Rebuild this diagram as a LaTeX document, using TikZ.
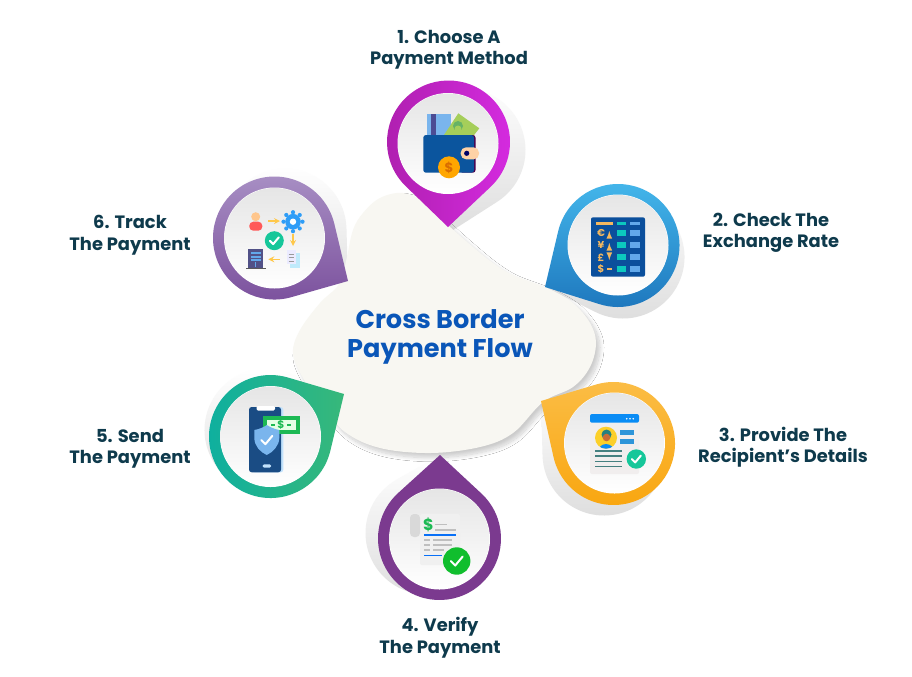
\documentclass[tikz,border=0pt]{standalone}
\usepackage{fontspec}
\setmainfont{Poppins}
\usetikzlibrary{shadows.blur}
\definecolor{blobfill}{HTML}{F8F7F2}
\definecolor{labelink}{HTML}{0E3A4C}
\definecolor{titleink}{HTML}{0A56B8}
\definecolor{walletblue}{HTML}{0B559E}
\definecolor{boardblue}{HTML}{0B4F9C}
\definecolor{cellteal}{HTML}{0CC8BE}
\definecolor{cellblue}{HTML}{62A8EA}
\definecolor{amber}{HTML}{F4B860}
\definecolor{skyblue}{HTML}{0A8CF5}
\definecolor{arrowgold}{HTML}{FFC84A}
\definecolor{notegreen}{HTML}{A5CE5A}
\definecolor{checkteal}{HTML}{16C79A}
\definecolor{checkgreen}{HTML}{10BE2D}
\definecolor{billgreen}{HTML}{1DB954}
\definecolor{phoneblue}{HTML}{1A4C84}
\definecolor{pinmagentaA}{HTML}{AE1FAE}
\definecolor{pinmagentaB}{HTML}{D52BE0}
\definecolor{pinblueA}{HTML}{45B8EC}
\definecolor{pinblueB}{HTML}{1E78BE}
\definecolor{pingoldA}{HTML}{FBBE48}
\definecolor{pingoldB}{HTML}{F9A60F}
\definecolor{pinplum}{HTML}{7B3A8F}
\definecolor{pingreenA}{HTML}{0DAFA0}
\definecolor{pingreenB}{HTML}{37B87A}
\definecolor{pinlilacA}{HTML}{A88FC4}
\definecolor{pinlilacB}{HTML}{7A4F9C}

% pin outline: circle at (#1,#2), point at (#3,#4), fill options #5
\newcommand{\pinmark}[5]{
  \pgfmathsetmacro{\pinang}{atan2(#4-(#2),#3-(#1))}
  \pgfmathsetmacro{\pinopen}{acos(61.5/veclen(#3-(#1),#4-(#2)))}
  \shade[#5] (#3,#4) -- ({#1+61.5*cos(\pinang+\pinopen)},{#2+61.5*sin(\pinang+\pinopen)})
    arc[start angle=\pinang+\pinopen,end angle=\pinang-\pinopen+360,radius=61.5] -- cycle;
}
% white disc inside a pin
\newcommand{\pindisc}[2]{
  \fill[white] (#1,#2) circle (50.5);
  \shade[top color=black!10,middle color=white,bottom color=white] (#1,#2) circle (50);
}
% white tick of size #3
\newcommand{\tickmark}[3]{
  \draw[white,line width=1.5pt,line cap=round,line join=round]
    (#1-#3,#2) -- (#1-0.25*#3,#2+0.75*#3) -- (#1+#3,#2-0.75*#3);
}

\tikzset{
  stepname/.style={text=labelink,font=\fontsize{13.4}{16.1}\selectfont\bfseries,align=center,inner sep=0pt},
  flowname/.style={text=titleink,font=\fontsize{19.2}{21.8}\selectfont\bfseries,align=center,inner sep=0pt},
  pinshadow/.style={shading angle=#1,top color=white,bottom color=black!13},
  iconglyph/.style={inner sep=0pt,font=\bfseries\fontsize{#1}{#1}\selectfont}
}

\begin{document}
\begin{tikzpicture}[x=0.75pt,y=-0.75pt]
  \useasboundingbox (0,0) rectangle (912,676);
  \fill[white] (0,0) rectangle (912,676);

  %shadows behind the pins
  \pinmark{464}{150}{450}{232}{pinshadow=0}
  \pinmark{623}{257}{545}{287}{pinshadow=-90}
  \pinmark{604}{454}{541}{401}{pinshadow=180}
  \pinmark{427}{533}{440}{455}{pinshadow=150}
  \pinmark{266}{430}{344}{394}{pinshadow=90}
  \pinmark{285}{230}{348}{281}{pinshadow=30}

  %central blob
  \fill[blobfill,blur shadow={shadow xshift=3pt,shadow yshift=-3.5pt,shadow blur radius=3pt,shadow blur steps=14,shadow opacity=20}]
    plot[smooth cycle,tension=.6] coordinates {(403,193) (425,203) (448,225) (473,247) (493,263)
      (513,275) (547,288) (573,303) (590,323) (596,343) (590,367) (573,387) (543,402) (513,433)
      (480,447) (430,453) (380,448) (345,432) (322,405) (303,378) (293,353) (300,330) (320,303)
      (337,287) (343,273) (347,257) (353,230) (363,213) (380,198)};

  %pins
  \pinmark{448.5}{142}{448}{227}{left color=pinmagentaA,right color=pinmagentaB}
  \pinmark{618}{245.5}{545}{287}{shading angle=135,top color=pinblueA,bottom color=pinblueB}
  \pinmark{613.5}{443.5}{541}{401}{top color=pingoldA,bottom color=pingoldB}
  \pinmark{439.5}{538.5}{440}{455}{top color=pinplum,bottom color=pinplum}
  \pinmark{270.5}{436.5}{344}{394}{left color=pingreenA,right color=pingreenB}
  \pinmark{274.5}{238}{348}{281}{shading angle=45,top color=pinlilacA,bottom color=pinlilacB}

  \foreach \px/\py in {448/143.5,618/245,614.5/443,439.5/539,270.5/436.5,274.5/238} {
    \pindisc{\px}{\py}
  }

  %wallet
  \fill[cellblue!85!white] (426.7,114.3) rectangle (451,136);
  \fill[blue!40!black!70] (431,114.3) rectangle (435.7,136);
  \fill[notegreen] (443.3,136) -- (458.3,113.3) -- (479.3,128.3) -- (473.3,136) -- cycle;
  \fill[green!50!black!60] (458,126) circle (5);
  \fill[notegreen] (458,129) circle (3.5);
  \fill[violet!60!black,rounded corners=2pt] (460,135) rectangle (475.5,172.7);
  \fill[walletblue,rounded corners=2pt] (423.3,135) rectangle (474,172.7);
  \fill[orange!35!white,rounded corners=4pt] (460.7,147.3) rectangle (479,159.3);
  \fill[blue!40!black] (466.7,153.3) circle (2.6);
  \fill[orange!70!yellow] (449,167.3) circle (11);
  \node[iconglyph=10,text=orange!85!black] (coinmark) at (449,167.5) {\$};

  %rate board
  \fill[boardblue,rounded corners=1.5pt] (591,217.3) rectangle (645,276.7);
  \fill[amber] (595.7,221.7) rectangle (613.3,224.7);
  \fill[cellteal] (617.3,221.7) rectangle (626,224.7);
  \fill[cellblue] (630,221.7) rectangle (640,224.7);
  \foreach \cy/\cur in {233.3/€,245.3/¥,257.3/£,269.3/\$} {
    \fill[cellteal] (617.3,\cy-3) rectangle (626,\cy+3);
    \fill[cellblue] (630,\cy-3) rectangle (640,\cy+3);
    \node[iconglyph=7.5,text=amber] at (601,\cy) {\cur};
  }
  \draw[amber,line width=1pt,-latex] (609.3,237) -- (609.3,231);
  \draw[amber,line width=1pt,-latex] (609.3,249) -- (609.3,243);
  \draw[amber,line width=1pt,-latex] (609.3,254) -- (609.3,260);
  \draw[amber,line width=1pt] (607,269) -- (611.5,269);

  %recipient card
  \fill[red!8!gray!12!white,rounded corners=1.5pt] (590,414) rectangle (639,474);
  \fill[skyblue,rounded corners=1.5pt] (590,414) rectangle (639,422.7);
  \foreach \dx in {626.7,630,633.3} {
    \fill[white] (\dx,418.7) circle (0.9);
  }
  \fill[yellow!60!orange!85!white] (606,437.7) circle (11);
  \begin{scope}
    \clip (606,437.7) circle (11);
    \fill[skyblue] (606,452) ellipse (8 and 8);
    \fill[teal!70!gray] (606.5,434.5) circle (5);
    \fill[brown!85!red] (606.5,437.5) circle (3.8);
  \end{scope}
  \fill[cyan!70!blue!85!white] (620,430) rectangle (634,434.7);
  \fill[cyan!70!blue!85!white] (620,439.3) rectangle (634,444);
  \foreach \ly in {451,456,461.3,466.7} {
    \draw[teal!45!gray,line width=0.9pt] (595,\ly) -- (621.7,\ly);
  }
  \fill[checkteal] (636.3,459) circle (9.7);
  \tickmark{636.3}{459}{4.5}

  %receipt
  \fill[gray!12,rounded corners=1.5pt] (420,514) -- (460,514) -- (460,565) -- (420,565) -- cycle;
  \fill[gray!30,rounded corners=3pt] (410,537) -- (410,514) -- (420,514) -- (420,537) -- cycle;
  \node[iconglyph=12,text=billgreen] (billmark) at (428.3,525) {\$};
  \foreach \xa/\xb/\ly in {435/446.7/524.7,435/456/530,424.3/430/540,433/451.7/540,424.3/430/545,433/451.7/545,424.3/430/550,433/444/550} {
    \draw[gray!50,line width=0.9pt] (\xa,\ly) -- (\xb,\ly);
  }
  \draw[skyblue!80!blue,line width=1pt] (424.3,535) -- (456,535);
  \draw[skyblue!80!blue,line width=1pt] (424.3,555.7) -- (441.7,555.7);
  \fill[checkgreen] (456.7,561) circle (13.7);
  \tickmark{456.7}{561}{6}

  %phone with shield
  \fill[skyblue!25!white,rounded corners=2pt] (252,407) rectangle (283.3,472.3);
  \fill[phoneblue,rounded corners=2pt] (249,407) rectangle (281,472.3);
  \fill[white,rounded corners=1pt] (256.5,406) rectangle (275,410.5);
  \fill[skyblue!25!white,rounded corners=1pt] (262.7,464.3) rectangle (271,467.7);
  \fill[billgreen] (263.3,416) rectangle (300,434);
  \fill[green!10!white] (266.7,420) rectangle (296,430);
  \node[iconglyph=8,text=billgreen] (notemark) at (281,425) {\$};
  \draw[billgreen,line width=1pt] (271,425) -- (275,425);
  \draw[billgreen,line width=1pt] (287,425) -- (291,425);
  \fill[cellblue!85!white] (254.3,430) .. controls (260,429) and (264,427) .. (266.8,425)
    .. controls (270,427) and (274,429) .. (279.3,430) -- (279.3,438)
    .. controls (279,446) and (273,452) .. (266.8,455) .. controls (260,452) and (254.5,446) .. (254.3,438) -- cycle;
  \tickmark{266.8}{440}{5.5}

  %tracking steps
  \fill[orange!45!white] (255.7,216.7) circle (4.5);
  \fill[red!65!white,rounded corners=3pt] (249.3,230.7) -- (249.3,221.7) -- (262.3,221.7) -- (262.3,230.7) -- cycle;
  \draw[arrowgold,line width=1pt,-stealth] (268.3,221) -- (280,221);
  \draw[arrowgold,line width=1pt,-stealth] (293,234) -- (293,246);
  \draw[arrowgold,line width=1pt,-stealth] (280,259.3) -- (268.3,259.3);
  \foreach \gear in {0,45,...,315} {
    \fill[skyblue!85!white] (293,221.7) ++(\gear:9.5) circle (2.1);
  }
  \fill[skyblue!85!white] (293,221.7) circle (7.8);
  \fill[white] (293,221.7) circle (3.2);
  \fill[checkteal] (274.3,240.7) circle (9.5);
  \tickmark{274.3}{240.7}{4.5}
  \fill[cyan!25!white] (289.5,253) rectangle (300,268.3);
  \fill[blue!8!white] (286.7,250) rectangle (296,264);
  \foreach \ly in {254,257.5,261} {
    \draw[gray!80,line width=0.7pt] (288.5,\ly) -- (293.5,\ly);
  }
  \fill[blue!25!gray!85!black] (248.3,249.3) rectangle (263.3,268.3);
  \fill[gray!70!black] (246,267.5) rectangle (265.7,269);
  \foreach \ly in {253,256.5,260} {
    \fill[cellblue] (251,\ly-1) rectangle (260.5,\ly+1);
  }
  \fill[cellblue] (255.3,262) rectangle (256.3,267);

  %labels
  \node[flowname] (flow) at (440,337) {Cross Border\\Payment Flow};
  \node[stepname] (method) at (449,49.5) {1. Choose A\\Payment Method};
  \node[stepname] (rate) at (771,233) {2. Check The\\Exchange Rate};
  \node[stepname] (details) at (783,447) {3. Provide The\\Recipient’s Details};
  \node[stepname] (verify) at (440,637.5) {4. Verify\\The Payment};
  \node[stepname] (send) at (130,449) {5. Send\\The Payment};
  \node[stepname] (track) at (130,235) {6. Track\\The Payment};
\end{tikzpicture}
\end{document}
